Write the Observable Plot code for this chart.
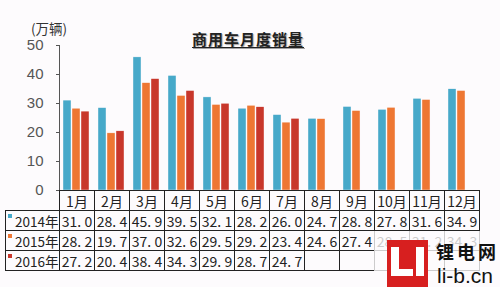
<!DOCTYPE html>
<html>
<head>
<meta charset="utf-8">
<script src="https://cdn.jsdelivr.net/npm/d3@7"></script>
<script src="https://cdn.jsdelivr.net/npm/@observablehq/plot@0.6"></script>
<style>
  body { margin: 0; background: #fdfbfd; }
  #wrap { position: relative; width: 500px; height: 287px; background: #fdfbfd; overflow: hidden; }
  #chart { position: absolute; left: 0; top: 0; }
  #title { position: absolute; left: 0; width: 496px; top: 28px; text-align: center;
           font: bold 15px "Noto Sans CJK SC", sans-serif; letter-spacing: 1px; color: #222;
           text-decoration: underline; text-underline-offset: 2px;
           text-shadow: 1px 1px 1px rgba(0,0,0,0.35); }
  #unit { position: absolute; left: 31px; top: 21px; font: 13.5px/15px "Noto Sans CJK SC", sans-serif; color: #333; }
  #tbl { position: absolute; left: 5px; top: 190px; border-collapse: collapse; table-layout: fixed; width: 474px; }
  #tbl td { border: 1px solid #222; height: 19px; padding: 0; text-align: center; white-space: nowrap;
            font: 14px "Noto Sans CJK SC", sans-serif; line-height: 18px; color: #222; overflow: hidden; }
  #tbl tr.head td:first-child { border-top: none; border-left: none; }
  #tbl td.lab { text-align: left; padding-left: 2px; font-size: 13.5px; }
  .sq { display: inline-block; width: 4px; height: 4px; vertical-align: 9px; margin-right: 3px; }
  #veil { position: absolute; left: 374px; top: 231px; width: 126px; height: 56px; background: rgba(253,251,253,0.78); }
  #logo { position: absolute; left: 387px; top: 240px; width: 41px; height: 47px; background: #d71f1f; }
  #logo div { position: absolute; background: #fff; }
  #wm1 { position: absolute; left: 436px; top: 241px; font: bold 18px/20px "Noto Sans CJK SC", sans-serif; letter-spacing: 3px; color: #111; }
  #wm2 { position: absolute; left: 437px; top: 265px; font: 21px/22px "Liberation Sans", Arial, sans-serif; color: #111; }
</style>
</head>
<body>
<div id="wrap">
  <div id="chart"></div>
  <div id="title">商用车月度销量</div>
  <div id="unit">(万辆)</div>
  <table id="tbl"></table>
  <div id="veil"></div>
  <div id="logo">
    <div style="left:4px;top:7px;width:8px;height:29px"></div>
    <div style="left:4px;top:29px;width:22px;height:7px"></div>
    <div style="left:29px;top:7px;width:8px;height:29px"></div>
  </div>
  <div id="wm1">锂电网</div>
  <div id="wm2">li-b.cn</div>
</div>
<script>
const months = ["1月","2月","3月","4月","5月","6月","7月","8月","9月","10月","11月","12月"];
const years = ["2014年","2015年","2016年"];
const v2014 = [31.0,28.4,45.9,39.5,32.1,28.2,26.0,24.7,28.8,27.8,31.6,34.9];
const v2015 = [28.2,19.7,37.0,32.6,29.5,29.2,23.4,24.6,27.4,28.5,31.2,34.3];
const v2016 = [27.2,20.4,38.4,34.3,29.9,28.7,24.7];
const yTicks = [0,10,20,30,40,50];
const colors = ["#47a9c9","#ee7733","#c8372b"];

const series = [v2014, v2015, v2016];
const data = [];
series.forEach((vals, i) => vals.forEach((v, j) => data.push({month: months[j], year: years[i], value: v})));

const chart = Plot.plot({
  width: 500, height: 287,
  marginLeft: 59, marginRight: 21, marginTop: 45, marginBottom: 97,
  style: {background: "transparent", fontFamily: "'Liberation Sans', Arial, sans-serif", fontSize: "15px", color: "#555", overflow: "visible"},
  fx: {domain: months, padding: 0, axis: null, label: null},
  x: {domain: years, paddingInner: 0.08, paddingOuter: 0.37, axis: null, label: null},
  y: {domain: [0, 50], ticks: yTicks, tickSize: 3, tickPadding: 13, line: true, label: null},
  color: {domain: years, range: colors},
  marks: [
    Plot.barY(data, {fx: "month", x: "year", y: "value", fill: "year", stroke: "#fdfbfd", strokeWidth: 0.4})
  ]
});
document.getElementById("chart").appendChild(chart);

// table
const fmt = v => v.toFixed(1).replace(".", ". ");
const tbl = d3.select("#tbl");
const cg = tbl.append("colgroup");
cg.append("col").style("width", "54px");
months.forEach(() => cg.append("col").style("width", "35px"));
const head = tbl.append("tr").attr("class", "head");
head.append("td");
months.forEach(m => head.append("td").text(m));
years.forEach((y, i) => {
  const tr = tbl.append("tr");
  const lab = tr.append("td").attr("class", "lab");
  lab.append("span").attr("class", "sq").style("background", colors[i]);
  lab.append("span").text(y);
  months.forEach((m, j) => tr.append("td").text(series[i][j] != null ? fmt(series[i][j]) : ""));
});
</script>
</body>
</html>
